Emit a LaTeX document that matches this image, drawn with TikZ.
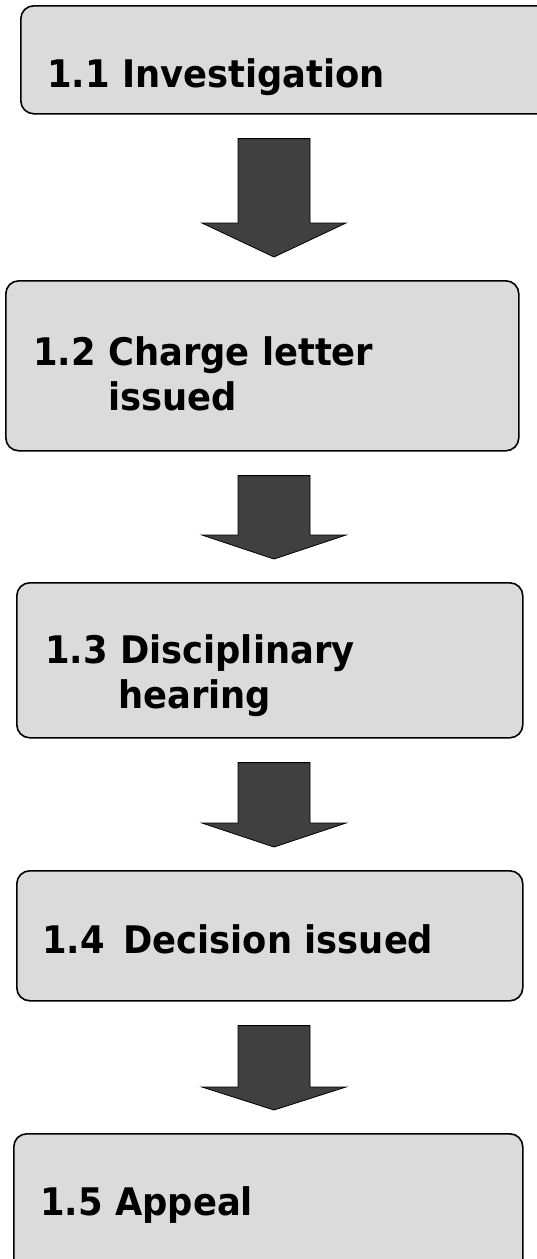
\documentclass[tikz,border=0pt]{standalone}
\usepackage{fontspec}
\setmainfont{DejaVu Sans}
\newfontfamily\stagefont[FakeStretch=0.93]{DejaVu Sans Bold}
\usetikzlibrary{calc}

\begin{document}
\begin{tikzpicture}[
  x=1pt, y=-1pt,
  stagebox/.style={
    rectangle,
    rounded corners=13pt,
    draw=black,
    fill=gray!28,
    line width=1.6pt,
    anchor=north west,
    inner sep=0pt
  },
  stagetext/.style={
    anchor=base west,
    align=left,
    inner sep=0pt,
    font=\fontsize{38}{45}\stagefont
  },
  blockarrow/.style={fill=black!75, draw=black, line width=0.8pt}
]
  \useasboundingbox (0,0) rectangle (537,1259);
  \begin{scope}
  \clip (0,0) rectangle (537,1259);
  \coordinate (spine) at (274,0);

  \node[stagebox, minimum width=560, minimum height=108] (inv) at (20,5) {};
  \node[stagetext] (invtext) at (47,87) {1.1 Investigation};

  \node[stagebox, minimum width=513, minimum height=170] (charge) at (5,280) {};
  \node[stagetext] (chargetext) at (33,410) {1.2 Charge letter\\
    \hspace*{75pt}issued};

  \node[stagebox, minimum width=506, minimum height=155] (hearing) at (16,582) {};
  \node[stagetext] (hearingtext) at (45,708) {1.3 Disciplinary\\
    \hspace*{73pt}hearing};

  \node[stagebox, minimum width=506, minimum height=130] (decision) at (16,870) {};
  \node[stagetext] (decisiontext) at (42,953) {1.4 \,Decision issued};

  \node[stagebox, minimum width=509, minimum height=180] (appeal) at (13,1133) {};
  \node[stagetext] (appealtext) at (40,1215) {1.5 Appeal};

  % block arrows between the stages
  \newcommand{\flowarrow}[3]{%
    \coordinate (top) at ($(#1.south -| spine)+(0,24)$);
    \coordinate (tip) at ($(#2.north -| spine)+(0,-23)$);
    \filldraw[blockarrow] ($(top)+(-36,0)$) -- ($(tip)+(-36,-#3)$)
      -- ($(tip)+(-72,-#3)$) -- (tip) -- ($(tip)+(72,-#3)$)
      -- ($(tip)+(36,-#3)$) -- ($(top)+(36,0)$) -- cycle;}
  \flowarrow{inv}{charge}{34}
  \flowarrow{charge}{hearing}{24}
  \flowarrow{hearing}{decision}{24}
  \flowarrow{decision}{appeal}{23}
  \end{scope}
\end{tikzpicture}
\end{document}
